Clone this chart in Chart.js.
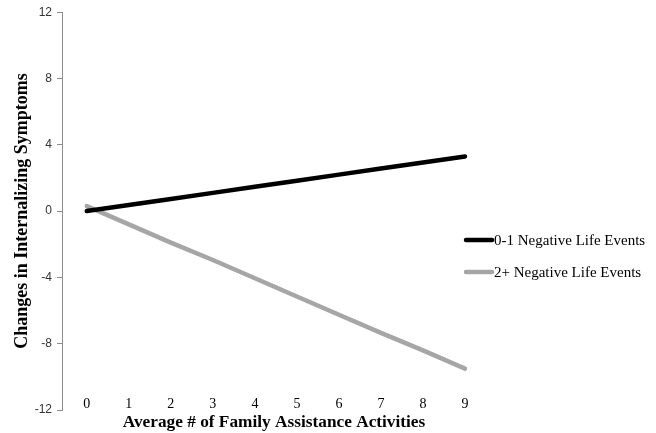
<!DOCTYPE html>
<html lang="en">
<head>
    <meta charset="UTF-8">
    <title>Family Assistance vs Internalizing Symptoms</title>
    <script src="https://cdn.jsdelivr.net/npm/chart.js"></script>
    <style>
        html, body { margin: 0; padding: 0; background: #fff; }
        #wrap { width: 656px; height: 433px; }
    </style>
</head>
<body>
    <div id="wrap"><canvas id="symptomsChart"></canvas></div>

    <script>
        // values
        const xLabels = [0, 1, 2, 3, 4, 5, 6, 7, 8, 9];
        const lowEvents = [0.0, 0.37, 0.73, 1.1, 1.47, 1.83, 2.2, 2.57, 2.93, 3.3];
        const highEvents = [0.3, -0.8, -1.9, -2.95, -4.05, -5.15, -6.25, -7.35, -8.4, -9.5];
        const yTicks = [-12, -8, -4, 0, 4, 8, 12];
        const seriesNames = ['0-1 Negative Life Events', '2+ Negative Life Events'];

        const serif = '"Liberation Serif", "Times New Roman", serif';
        const sans = '"Liberation Sans", Arial, sans-serif';

        // x tick labels sit just above the bottom of the plot in the original,
        // chart.js clips scale labels to the axis box so draw them here
        const xTickLabels = {
            id: 'xTickLabels',
            afterDraw(chart) {
                const ctx = chart.ctx;
                const xs = chart.scales.x;
                ctx.save();
                ctx.fillStyle = '#000';
                ctx.font = '14px ' + serif;
                ctx.textAlign = 'center';
                ctx.textBaseline = 'middle';
                xLabels.forEach(v => {
                    ctx.fillText(String(v), xs.getPixelForValue(v), chart.chartArea.bottom - 6);
                });
                ctx.restore();
            }
        };

        // legend drawn to the right of the plot, like the original
        const sideLegend = {
            id: 'sideLegend',
            afterDraw(chart) {
                const ctx = chart.ctx;
                const x0 = chart.chartArea.right - 20;
                chart.data.datasets.forEach((ds, i) => {
                    const y = 240 + i * 32;
                    ctx.save();
                    ctx.strokeStyle = ds.borderColor;
                    ctx.lineWidth = 4.5;
                    ctx.lineCap = 'round';
                    ctx.beginPath();
                    ctx.moveTo(x0, y);
                    ctx.lineTo(x0 + 26, y);
                    ctx.stroke();
                    ctx.fillStyle = '#000';
                    ctx.font = '15px ' + serif;
                    ctx.textBaseline = 'middle';
                    ctx.fillText(ds.label, x0 + 28, y + 1);
                    ctx.restore();
                });
            }
        };

        const toPoints = arr => arr.map((v, i) => ({ x: xLabels[i], y: v }));

        new Chart(document.getElementById('symptomsChart'), {
            type: 'line',
            data: {
                datasets: [{
                    label: seriesNames[0],
                    data: toPoints(lowEvents),
                    borderColor: '#000000',
                    borderWidth: 4.5,
                    pointRadius: 0,
                    borderCapStyle: 'round'
                }, {
                    label: seriesNames[1],
                    data: toPoints(highEvents),
                    borderColor: '#a6a6a6',
                    borderWidth: 4.5,
                    pointRadius: 0,
                    borderCapStyle: 'round'
                }]
            },
            options: {
                responsive: true,
                maintainAspectRatio: false,
                animation: false,
                layout: { padding: { top: 11, right: 170, bottom: 0, left: 0 } },
                plugins: {
                    legend: { display: false },
                    tooltip: { enabled: false }
                },
                scales: {
                    x: {
                        type: 'linear',
                        min: -0.59,
                        max: 9.5,
                        afterBuildTicks: s => { s.ticks = xLabels.map(v => ({ value: v })); },
                        afterFit: s => { s.height = 23; },
                        grid: { display: false },
                        border: { display: false },
                        ticks: { display: false },
                        title: {
                            display: true,
                            text: 'Average # of Family Assistance Activities',
                            color: '#000',
                            font: { family: serif, size: 17.3, weight: 'bold' },
                            padding: { top: 0, bottom: 0 }
                        }
                    },
                    y: {
                        min: -12,
                        max: 12,
                        afterBuildTicks: s => { s.ticks = yTicks.map(v => ({ value: v })); },
                        afterFit: s => { s.width = 62; },
                        grid: {
                            drawOnChartArea: false,
                            drawTicks: true,
                            tickLength: 5,
                            color: '#8c8c8c'
                        },
                        border: { display: true, color: '#8c8c8c', width: 1 },
                        ticks: {
                            padding: 5,
                            color: '#333333',
                            font: { family: sans, size: 12 }
                        },
                        title: {
                            display: true,
                            text: 'Changes in Internalizing Symptoms',
                            color: '#000',
                            font: { family: serif, size: 18, weight: 'bold' },
                            padding: { top: 12, bottom: 0 }
                        }
                    }
                }
            },
            plugins: [xTickLabels, sideLegend]
        });
    </script>
</body>
</html>
